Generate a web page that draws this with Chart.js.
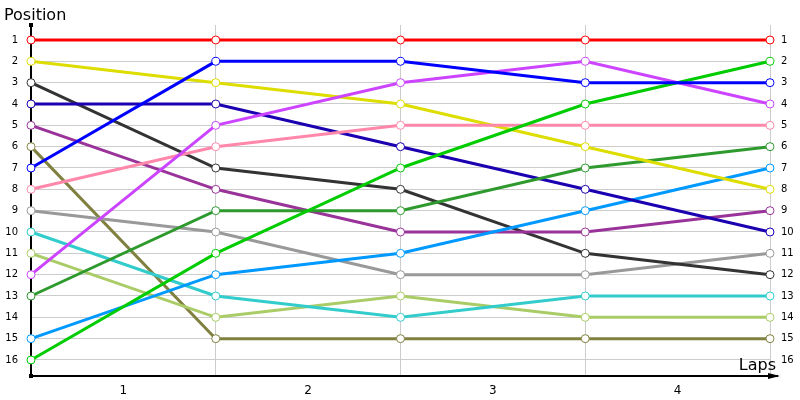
<!DOCTYPE html>
<html>
<head>
<meta charset="utf-8">
<script src="https://cdn.jsdelivr.net/npm/chart.js@4"></script>
<style>
    html, body { margin: 0; padding: 0; background: #fff; }
    #wrap { width: 800px; height: 400px; position: relative; }
</style>
</head>
<body>
<div id="wrap"><canvas id="canvasPosition"></canvas></div>
<script>
// positions at the start and after each lap (x = 0..4)
const lapLabels = ['1', '2', '3', '4'];
const positionTicks = [1, 2, 3, 4, 5, 6, 7, 8, 9, 10, 11, 12, 13, 14, 15, 16];

const red = [1, 1, 1, 1, 1];
const yellow = [2, 3, 4, 6, 8];
const darkGray = [3, 7, 8, 11, 12];
const navy = [4, 4, 6, 8, 10];
const purple = [5, 8, 10, 10, 9];
const olive = [6, 15, 15, 15, 15];
const blue = [7, 2, 2, 3, 3];
const pink = [8, 6, 5, 5, 5];
const gray = [9, 10, 12, 12, 11];
const cyan = [10, 13, 14, 13, 13];
const lightGreen = [11, 14, 13, 14, 14];
const violet = [12, 5, 3, 2, 4];
const darkGreen = [13, 9, 9, 7, 6];
const lightBlue = [15, 12, 11, 9, 7];
const green = [16, 11, 7, 4, 2];

const series = [
    { data: red, color: '#ff0000' },
    { data: blue, color: '#0000ff' },
    { data: violet, color: '#cc44ff' },
    { data: green, color: '#00cc00' },
    { data: pink, color: '#ff88aa' },
    { data: yellow, color: '#dddd00' },
    { data: darkGreen, color: '#2e9a2e' },
    { data: navy, color: '#1a00b0' },
    { data: lightBlue, color: '#0099ff' },
    { data: purple, color: '#993399' },
    { data: darkGray, color: '#333333' },
    { data: gray, color: '#999999' },
    { data: cyan, color: '#33cccc' },
    { data: lightGreen, color: '#aacc66' },
    { data: olive, color: '#808040' },
];

const datasets = series.map(s => ({
    data: s.data.map((v, i) => ({ x: i, y: v })),
    borderColor: s.color,
    backgroundColor: '#ffffff',
    pointBorderColor: s.color,
    pointBackgroundColor: '#ffffff',
    pointRadius: 4,
    pointBorderWidth: 1,
    borderWidth: 3,
    tension: 0,
    clip: false,
}));

// black axes with arrow + titles
const axesDecor = {
    id: 'axesDecor',
    beforeDatasetsDraw(chart) {
        const c = chart.ctx;
        const a = chart.chartArea;
        c.save();
        c.strokeStyle = '#000';
        c.fillStyle = '#000';
        c.lineWidth = 2;
        c.beginPath();
        c.moveTo(a.left, a.top);
        c.lineTo(a.left, a.bottom);
        c.lineTo(a.right + 8, a.bottom);
        c.stroke();
        // arrow
        c.beginPath();
        c.moveTo(a.right + 10, a.bottom);
        c.lineTo(a.right - 2, a.bottom - 3);
        c.lineTo(a.right - 2, a.bottom + 3);
        c.closePath();
        c.fill();
        // dots
        c.fillRect(a.left - 2, a.top - 2, 4, 4);
        c.fillRect(a.left - 2, a.bottom - 2, 4, 4);
        c.font = '16px "DejaVu Sans", Verdana, sans-serif';
        c.textBaseline = 'alphabetic';
        c.textAlign = 'left';
        c.fillText('Position', 4, 20);
        c.textAlign = 'right';
        c.fillText('Laps', a.right + 6, 370);
        c.restore();
    }
};

const tickFont = { family: '"DejaVu Sans", Verdana, sans-serif', size: 10 };

const config = {
    type: 'line',
    data: { datasets: datasets },
    options: {
        responsive: true,
        maintainAspectRatio: false,
        animation: false,
        layout: { padding: { top: 25, left: 0, right: 0, bottom: 0 } },
        plugins: { legend: { display: false }, tooltip: { enabled: false } },
        scales: {
            x: {
                type: 'linear',
                min: 0,
                max: 4,
                afterBuildTicks: scale => {
                    const t = [];
                    for (let i = 0; i <= 8; i++) t.push({ value: i / 2 });
                    scale.ticks = t;
                },
                afterFit: scale => { scale.height = 24; },
                border: { display: false },
                grid: {
                    color: ctx => (ctx.tick && ctx.tick.value % 1 === 0 && ctx.tick.value > 0) ? '#cccccc' : 'transparent',
                    drawTicks: false,
                    lineWidth: 1,
                },
                ticks: {
                    autoSkip: false,
                    maxRotation: 0,
                    padding: 8,
                    color: '#000',
                    font: { family: '"DejaVu Sans", Verdana, sans-serif', size: 12 },
                    callback: v => (v % 1 === 0.5) ? lapLabels[Math.floor(v)] : '',
                },
            },
            y: {
                type: 'linear',
                position: 'left',
                reverse: true,
                min: 0.297,
                max: 16.75,
                afterBuildTicks: scale => { scale.ticks = positionTicks.map(v => ({ value: v })); },
                afterFit: scale => { scale.width = 31; },
                border: { display: false },
                grid: { color: '#cccccc', drawTicks: false },
                ticks: { color: '#000', font: tickFont, padding: 13, autoSkip: false },
            },
            y2: {
                type: 'linear',
                position: 'right',
                reverse: true,
                min: 0.297,
                max: 16.75,
                afterBuildTicks: scale => { scale.ticks = positionTicks.map(v => ({ value: v })); },
                afterFit: scale => { scale.width = 30; },
                border: { display: false },
                grid: { display: false },
                ticks: { color: '#000', font: tickFont, padding: 3, autoSkip: false },
            },
        },
    },
    plugins: [axesDecor],
};

new Chart(document.getElementById('canvasPosition').getContext('2d'), config);
</script>
</body>
</html>
